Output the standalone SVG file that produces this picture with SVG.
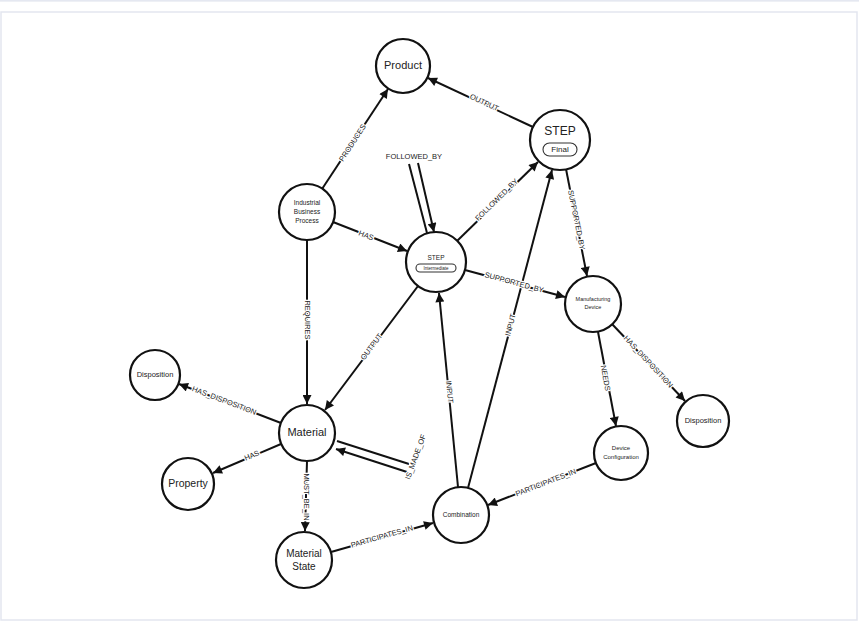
<svg xmlns="http://www.w3.org/2000/svg" width="859" height="625" viewBox="0 0 859 625">
<style>
.n{fill:#fff;stroke:#111;stroke-width:2.2}
.t{font-family:"Liberation Sans",Arial,sans-serif;fill:#222;text-anchor:middle;dominant-baseline:middle}
.e{stroke:#111;stroke-width:2;fill:none;marker-end:url(#a)}
.p{stroke:#111;stroke-width:2;fill:none}
.l{font-family:"Liberation Sans",Arial,sans-serif;font-size:7.5px;fill:#222;text-anchor:middle;dominant-baseline:middle;stroke:#fff;stroke-width:2.5;stroke-linejoin:round;paint-order:stroke}
.pill{fill:#fff;stroke:#333;stroke-width:1.1}
</style>
<defs><marker id="a" viewBox="0 0 10 10" refX="10" refY="5" markerWidth="10" markerHeight="9" orient="auto" markerUnits="userSpaceOnUse"><path d="M0,0L10,5L0,10z" fill="#111"/></marker></defs>
<rect x="0" y="0" width="859" height="625" fill="#fff"/>
<rect x="-2" y="-10" width="863" height="11" fill="#eef0f6" stroke="#dde1ec"/>
<rect x="1" y="12" width="856" height="608" fill="#fff" stroke="#e3e6ef" stroke-width="1.5"/>
<g id="connectors">
<line class="e" x1="533" y1="127" x2="428" y2="78"/>
<line class="e" x1="322" y1="189" x2="388" y2="89"/>
<line class="e" x1="333" y1="222" x2="407" y2="251"/>
<line class="e" x1="457" y1="241" x2="538" y2="162"/>
<path class="p" d="M427,233 L409,164"/>
<line class="e" x1="418" y1="163" x2="434" y2="232"/>
<line class="e" x1="566" y1="169" x2="587" y2="276"/>
<line class="e" x1="465" y1="270" x2="565" y2="297"/>
<line class="e" x1="307" y1="240" x2="307" y2="404"/>
<line class="e" x1="418" y1="286" x2="325" y2="410"/>
<line class="e" x1="458" y1="487" x2="439" y2="293"/>
<line class="e" x1="468" y1="488" x2="552" y2="170"/>
<line class="e" x1="598" y1="332" x2="616" y2="426"/>
<line class="e" x1="612" y1="324" x2="685" y2="401"/>
<line class="e" x1="281" y1="423" x2="179" y2="384"/>
<line class="e" x1="281" y1="444" x2="213" y2="473"/>
<line class="e" x1="307" y1="461" x2="305" y2="531"/>
<line class="e" x1="331" y1="552" x2="433" y2="523"/>
<line class="e" x1="596" y1="463" x2="488" y2="505"/>
<path class="p" d="M337,441 L409,464"/>
<line class="e" x1="407" y1="472" x2="336" y2="449"/>
<text class="l" transform="translate(484,103) rotate(25)">OUTPUT</text>
<text class="l" transform="translate(353,143) rotate(-57)">PRODUCES</text>
<text class="l" transform="translate(366,236) rotate(21)">HAS</text>
<text class="l" transform="translate(497,200) rotate(-44.5)">FOLLOWED_BY</text>
<text class="l" x="414" y="157">FOLLOWED_BY</text>
<text class="l" transform="translate(576,220) rotate(78.6)">SUPPORTED_BY</text>
<text class="l" transform="translate(514,283) rotate(15)">SUPPORTED_BY</text>
<text class="l" transform="translate(307,320) rotate(90)">REQUIRES</text>
<text class="l" transform="translate(372,347) rotate(-53)">OUTPUT</text>
<text class="l" transform="translate(449,392) rotate(84.4)">INPUT</text>
<text class="l" transform="translate(511,325) rotate(-75.2)">INPUT</text>
<text class="l" transform="translate(605,378) rotate(79.4)">NEEDS</text>
<text class="l" transform="translate(648,362) rotate(46.8)">HAS_DISPOSITION</text>
<text class="l" transform="translate(224,401) rotate(20.9)">HAS_DISPOSITION</text>
<text class="l" transform="translate(252,456) rotate(-23.2)">HAS</text>
<text class="l" transform="translate(306,497) rotate(90)">MUST_BE_IN</text>
<text class="l" transform="translate(382,537) rotate(-16)">PARTICIPATES_IN</text>
<text class="l" transform="translate(546,483) rotate(-21.2)">PARTICIPATES_IN</text>
<text class="l" transform="translate(416,457) rotate(-70)">IS_MADE_OF</text>
</g>
<g id="product"><circle class="n" cx="403" cy="66" r="27"/><text class="t" x="403" y="66" font-size="11">Product</text></g>
<g id="step-final"><circle class="n" cx="560" cy="140" r="30"/><text class="t" x="560" y="132" font-size="12">STEP</text><rect class="pill" x="543" y="143" width="34" height="13" rx="6.5"/><text class="t" x="560" y="150" font-size="8">Final</text></g>
<g id="ibp"><circle class="n" cx="307" cy="212" r="28"/><text class="t" font-size="6.5"><tspan x="307" y="203">Industrial</tspan><tspan x="307" y="212">Business</tspan><tspan x="307" y="221">Process</tspan></text></g>
<g id="step-int"><circle class="n" cx="436" cy="262" r="30"/><text class="t" x="436" y="258" font-size="6.5">STEP</text><rect class="pill" x="416" y="264" width="40" height="8" rx="4"/><text class="t" x="436" y="268.5" font-size="4.5">Intermediate</text></g>
<g id="mfg-device"><circle class="n" cx="593" cy="304" r="28"/><text class="t" font-size="5.5"><tspan x="593" y="300">Manufacturing</tspan><tspan x="593" y="308">Device</tspan></text></g>
<g id="disp-left"><circle class="n" cx="155" cy="375" r="25"/><text class="t" x="155" y="375" font-size="7.5">Disposition</text></g>
<g id="material"><circle class="n" cx="307" cy="433" r="28"/><text class="t" x="307" y="433" font-size="11">Material</text></g>
<g id="disp-right"><circle class="n" cx="703" cy="421" r="26"/><text class="t" x="703" y="421" font-size="7.5">Disposition</text></g>
<g id="device-config"><circle class="n" cx="621" cy="453" r="27"/><text class="t" font-size="6"><tspan x="621" y="448">Device</tspan><tspan x="621" y="457">Configuration</tspan></text></g>
<g id="property"><circle class="n" cx="188" cy="484" r="26"/><text class="t" x="188" y="484" font-size="10.5">Property</text></g>
<g id="combination"><circle class="n" cx="461" cy="515" r="28"/><text class="t" x="461" y="515" font-size="6.5">Combination</text></g>
<g id="material-state"><circle class="n" cx="304" cy="560" r="28"/><text class="t" font-size="10"><tspan x="304" y="554">Material</tspan><tspan x="304" y="567">State</tspan></text></g>
</svg>
